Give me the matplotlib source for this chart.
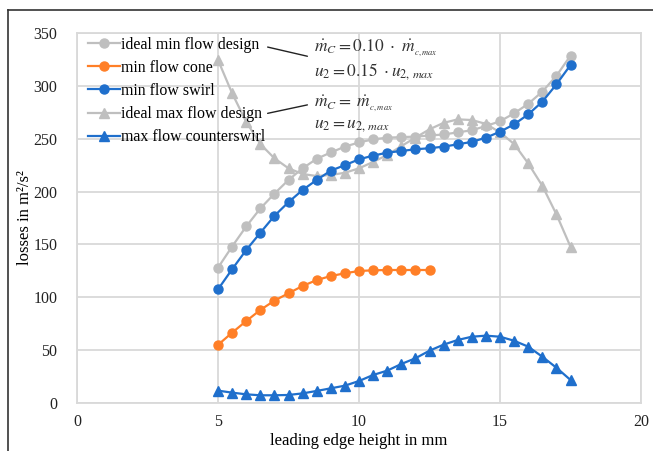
import matplotlib
matplotlib.use("Agg")
import matplotlib.pyplot as plt
from matplotlib.lines import Line2D

plt.rcParams['font.family'] = ['Liberation Serif', 'DejaVu Serif']
plt.rcParams['mathtext.fontset'] = 'stix'

x_full = [5, 5.5, 6, 6.5, 7, 7.5, 8, 8.5, 9, 9.5, 10, 10.5, 11, 11.5, 12, 12.5,
          13, 13.5, 14, 14.5, 15, 15.5, 16, 16.5, 17, 17.5]
x_cone = [5, 5.5, 6, 6.5, 7, 7.5, 8, 8.5, 9, 9.5, 10, 10.5, 11, 11.5, 12, 12.5]

ideal_min = [128, 148, 167, 184, 198, 211, 222, 231, 237, 242.5, 246.5, 249.4, 251, 251.5, 252, 253,
             254, 256, 258, 262, 266.5, 274, 283, 294.5, 309.5, 328.5]
cone = [55, 66.5, 77.5, 88, 96.8, 103.8, 110.7, 116.3, 120.1, 122.7, 124.9, 125.5, 125.8, 125.8, 125.8, 125.8]
swirl = [107.5, 126.5, 144.7, 161, 177, 190, 201.5, 211, 219.8, 225, 230.5, 234, 236.8, 238.4, 240, 241,
         242.5, 244.7, 247, 251, 256.6, 263.6, 273, 285, 301.4, 319.7]
ideal_max = [324.5, 293, 266, 245, 231.5, 222, 216.6, 214.7, 215.7, 217.8, 222, 228, 234.6, 243, 251, 258.9,
             265, 268.3, 267.7, 264, 256, 245, 226.7, 205.5, 178.5, 147.8]
counter = [11.7, 9.8, 8.2, 7.3, 7.3, 7.6, 9.1, 11.4, 13.9, 16.4, 20.8, 26.5, 30.6, 36.9, 42.3, 49.5,
           55.2, 59.6, 62.7, 63.7, 62.7, 58.9, 53.3, 43.8, 33.4, 21.8]

labels = ['ideal min flow design', 'min flow cone', 'min flow swirl',
          'ideal max flow design', 'max flow counterswirl']
xticks = [0, 5, 10, 15, 20]
yticks = [0, 50, 100, 150, 200, 250, 300, 350]

GRAY = '#BFBFBF'
ORANGE = '#FF7F27'
BLUE = '#1F6FCC'

W, H = 653, 451
fig = plt.figure(figsize=(W / 100, H / 100), dpi=100)
ax = fig.add_axes([77 / W, 1 - 403 / H, (641 - 77) / W, (403 - 33) / H])

lw = 1.6
ms = 6.5
ax.plot(x_full, ideal_min, color=GRAY, lw=lw, marker='o', ms=ms, label=labels[0], zorder=3)
ax.plot(x_cone, cone, color=ORANGE, lw=lw, marker='o', ms=ms, label=labels[1], zorder=3)
ax.plot(x_full, swirl, color=BLUE, lw=lw, marker='o', ms=ms, label=labels[2], zorder=4)
ax.plot(x_full, ideal_max, color=GRAY, lw=lw, marker='^', ms=ms, label=labels[3], zorder=3)
ax.plot(x_full, counter, color=BLUE, lw=lw, marker='^', ms=ms, label=labels[4], zorder=4)

ax.set_xlim(0, 20)
ax.set_ylim(0, 350)
ax.set_xticks(xticks)
ax.set_yticks(yticks)
ax.tick_params(axis='y', length=0, labelsize=11.5, pad=14, colors='#222222')
ax.tick_params(axis='x', length=0, labelsize=11.5, pad=8, colors='#222222')
ax.grid(True, color='#D9D9D9', lw=1.3)
ax.set_axisbelow(True)
for s in ax.spines.values():
    s.set_color('#D9D9D9')
    s.set_linewidth(1.3)

leg = ax.legend(loc='upper left', bbox_to_anchor=(0.0, 1.02), frameon=False, fontsize=11.4,
                handlelength=2.0, handletextpad=0.08, labelspacing=0.45, borderaxespad=0.3)

ax.set_ylabel('losses in m²/s²', fontsize=12)
ax.yaxis.set_label_coords((33 - 77) / 564, 0.5)
fig.text(359 / W, 1 - 441 / H, 'leading edge height in mm', ha='center', va='center', fontsize=12)

# annotations
ax.annotate('', xy=(8.17, 328), xytext=(6.76, 336.7),
            arrowprops=dict(arrowstyle='-', color='#222222', lw=1.0, shrinkA=0, shrinkB=0))
ax.annotate('', xy=(8.17, 282), xytext=(6.76, 274),
            arrowprops=dict(arrowstyle='-', color='#222222', lw=1.0, shrinkA=0, shrinkB=0))
tc = '#333333'
tx = 8.42
fs = 12.5
ax.text(tx, 335, r'$\dot{m}_C = 0.10\ \cdot\ \dot{m}_{_{c,max}}$', fontsize=fs, color=tc, va='center')
ax.text(tx, 314, r'$u_2 = 0.15\ \cdot u_{2,\,max}$', fontsize=fs, color=tc, va='center')
ax.text(tx, 283, r'$\dot{m}_C =\ \dot{m}_{_{c,max}}$', fontsize=fs, color=tc, va='center')
ax.text(tx, 262, r'$u_2 = u_{2,\,max}$', fontsize=fs, color=tc, va='center')

# outer frame (partially visible)
fig.add_artist(Line2D([8 / W, 8 / W], [0, 1 - 10 / H], color='#333333', lw=1.2, transform=fig.transFigure))
fig.add_artist(Line2D([8 / W, 1], [1 - 10 / H, 1 - 10 / H], color='#333333', lw=1.2, transform=fig.transFigure))

fig.savefig('out.png', dpi=100)
